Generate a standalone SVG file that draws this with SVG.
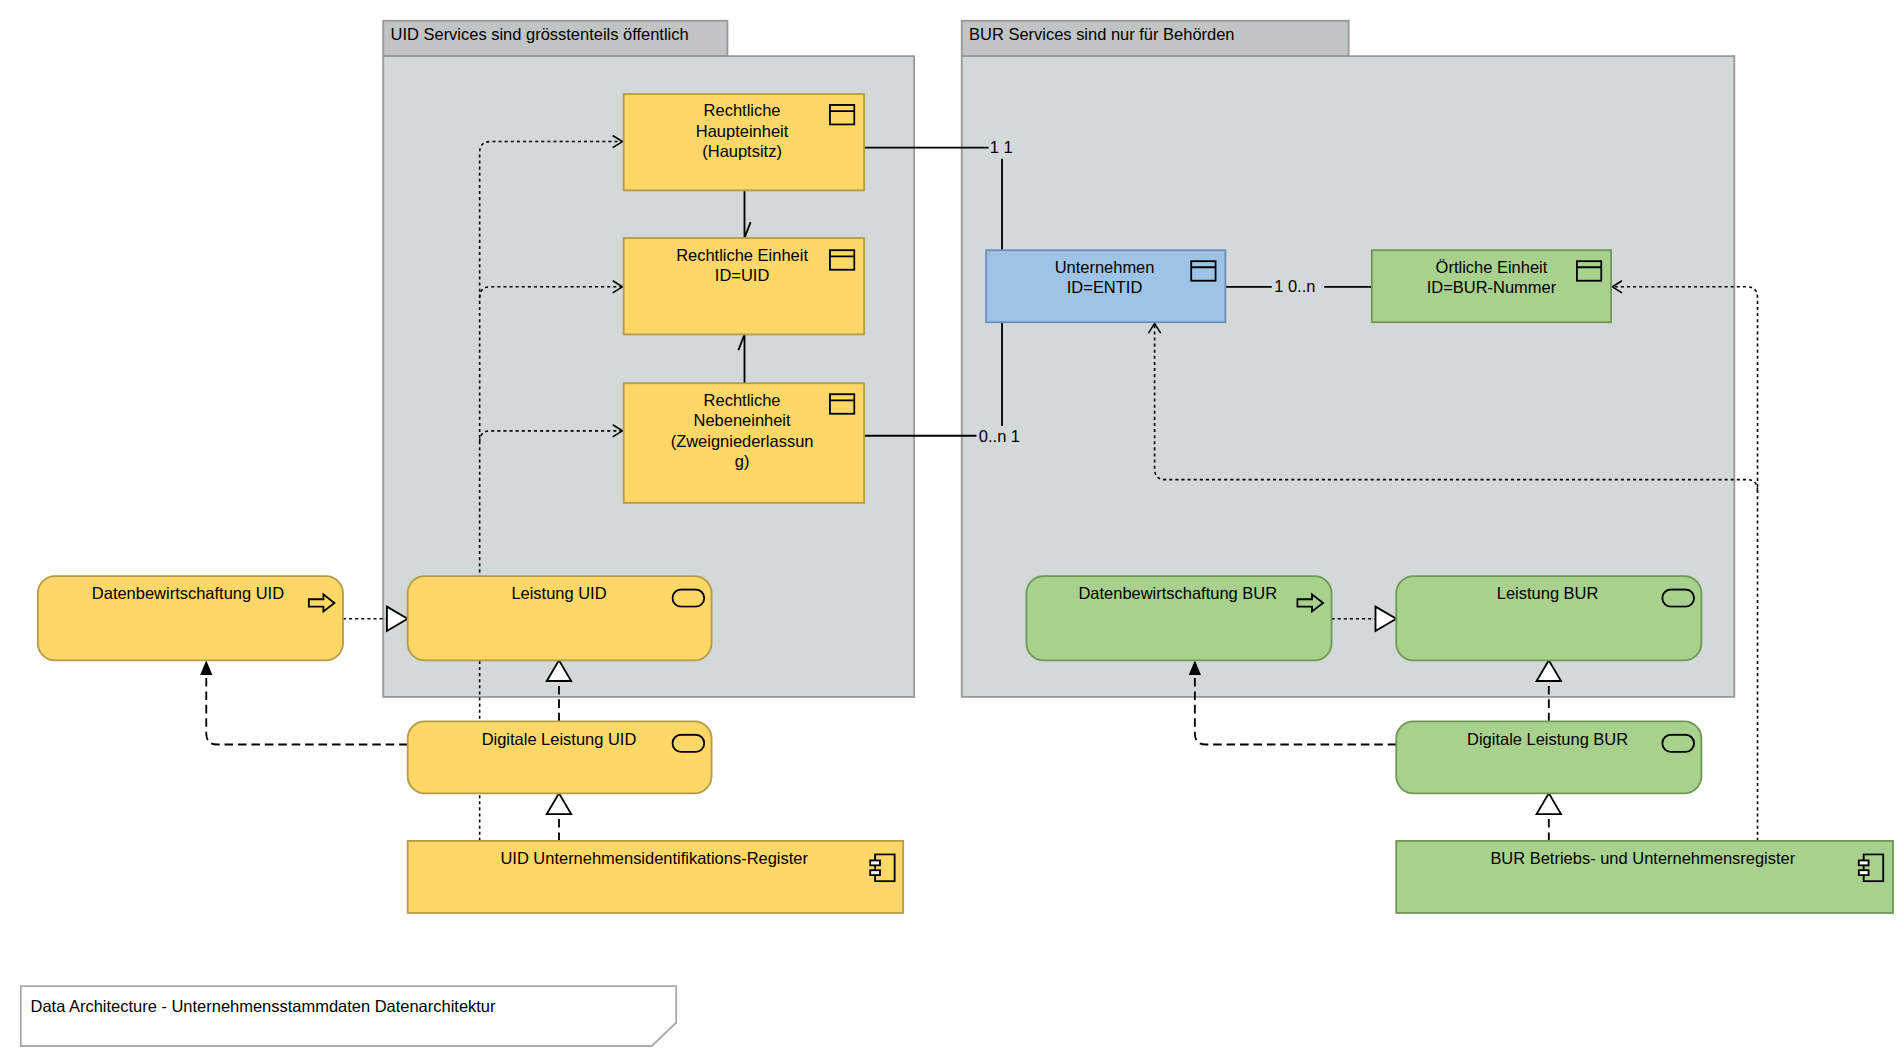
<svg xmlns="http://www.w3.org/2000/svg" width="1904" height="1062" viewBox="0 0 1904 1062">
<style>
text{font-family:"Liberation Sans",Arial,sans-serif;font-size:13.5px;fill:#000}
.c{text-anchor:middle}
.grpT{fill:#c0c4c4;stroke:#999;stroke-width:1.5}
.grp{fill:#d3d9d9;stroke:#999;stroke-width:1.5}
.y{fill:#fdd868;stroke:#b89c45;stroke-width:1.5}
.g{fill:#a9d18e;stroke:#6e9a55;stroke-width:1.5}
.b{fill:#9dc3e6;stroke:#6c8ebf;stroke-width:1.5}
.ic{fill:none;stroke:#000;stroke-width:1.5}
.ln{fill:none;stroke:#000;stroke-width:1.5}
.dot{fill:none;stroke:#000;stroke-width:1.3;stroke-dasharray:2.5 2.5}
.dash{fill:none;stroke:#000;stroke-width:1.5;stroke-dasharray:7 4}
.tri{fill:#fff;stroke:#000;stroke-width:1.5}
</style>
<defs>
<marker id="open" markerWidth="12" markerHeight="12" refX="10" refY="6" orient="auto" markerUnits="userSpaceOnUse"><path d="M2,1 L10,6 L2,11" fill="none" stroke="#000" stroke-width="1.3"/></marker>
<marker id="solid" markerWidth="12" markerHeight="14" refX="11" refY="6" orient="auto" markerUnits="userSpaceOnUse"><path d="M0,1 L12,6 L0,11 Z" fill="#000"/></marker>
<symbol id="cls" viewBox="0 0 22 18"><rect x="1" y="1" width="20" height="16" class="ic"/><line x1="1" y1="6" x2="21" y2="6" class="ic"/></symbol>
<symbol id="svc" viewBox="0 0 28 16"><rect x="1" y="1" width="26" height="14" rx="7" class="ic"/></symbol>
<symbol id="proc" viewBox="0 0 24 18"><path d="M1,6 H13 V2 L22,9 L13,16 V12 H1 Z" class="ic"/></symbol>
<symbol id="cmp" viewBox="0 0 24 24"><rect x="6" y="1" width="16" height="22" class="ic"/><rect x="2" y="6" width="8" height="4" fill="#fff" stroke="#000" stroke-width="1.5"/><rect x="2" y="14" width="8" height="4" fill="#fff" stroke="#000" stroke-width="1.5"/></symbol>
</defs>
<rect width="1904" height="1062" fill="#fff"/>
<g transform="scale(1.2205)">
<g id="grpUID">
<rect class="grpT" x="314" y="17" width="282" height="29"/>
<rect class="grp" x="314" y="46" width="435" height="525"/>
<text x="320" y="33">UID Services sind grösstenteils öffentlich</text>
</g>
<g id="grpBUR">
<rect class="grpT" x="788" y="17" width="317" height="29"/>
<rect class="grp" x="788" y="46" width="633" height="525"/>
<text x="794" y="33">BUR Services sind nur für Behörden</text>
</g>

<g id="connectors">
<path class="ln" d="M708,121 H810"/><text x="811" y="125">1 1</text><path class="ln" d="M821,130 V205"/>
<path class="ln" d="M708,357 H800"/><text x="802" y="362">0..n 1</text><path class="ln" d="M821,264 V349"/>
<path class="ln" d="M1004,235 H1042"/><text x="1044" y="239">1 0..n</text><path class="ln" d="M1085,235 H1124"/>
<path class="ln" d="M610,156 V195 M610,195 L615,182"/>
<path class="ln" d="M610,314 V274 M610,274 L605,287"/>
<path class="dot" d="M393,689 V125 Q393,116 402,116 H510" marker-end="url(#open)" marker-start="url(#open)"/>
<path class="dot" d="M393,244 Q393,235 402,235 H510" marker-end="url(#open)"/>
<path class="dot" d="M393,362 Q393,353 402,353 H510" marker-end="url(#open)"/>
<path class="dot" d="M1440,689 V244 Q1440,235 1431,235 H1321" marker-end="url(#open)" marker-start="url(#open)"/>
<path class="dot" d="M1440,402 Q1440,393 1431,393 H955 Q946,393 946,384 V265" marker-end="url(#open)"/>
<path class="dot" d="M281,507 H317"/><path class="tri" d="M317,497 L334,507 L317,517 Z"/>
<path class="dot" d="M1091,507 H1127"/><path class="tri" d="M1127,497 L1144,507 L1127,517 Z"/>
<path class="dash" d="M458,591 V558" stroke-dasharray="4 3"/><path class="tri" d="M448,558 L458,541 L468,558 Z"/>
<path class="dash" d="M458,689 V667" stroke-dasharray="4 3"/><path class="tri" d="M448,667 L458,650 L468,667 Z"/>
<path class="dash" d="M1269,591 V558" stroke-dasharray="4 3"/><path class="tri" d="M1259,558 L1269,541 L1279,558 Z"/>
<path class="dash" d="M1269,689 V667" stroke-dasharray="4 3"/><path class="tri" d="M1259,667 L1269,650 L1279,667 Z"/>
<path class="dash" d="M334,610 H178 Q169,610 169,601 V542" marker-end="url(#solid)"/>
<path class="dash" d="M1144,610 H988 Q979,610 979,601 V542" marker-end="url(#solid)"/>
</g>

<g id="rh"><rect class="y" x="511" y="77" width="197" height="79"/><use href="#cls" x="679" y="85" width="22" height="18"/>
<text class="c" x="608" y="95">Rechtliche</text><text class="c" x="608" y="112">Haupteinheit</text><text class="c" x="608" y="129">(Hauptsitz)</text></g>
<g id="re"><rect class="y" x="511" y="195" width="197" height="79"/><use href="#cls" x="679" y="204" width="22" height="18"/>
<text class="c" x="608" y="214">Rechtliche Einheit</text><text class="c" x="608" y="230">ID=UID</text></g>
<g id="rn"><rect class="y" x="511" y="314" width="197" height="98"/><use href="#cls" x="679" y="322" width="22" height="18"/>
<text class="c" x="608" y="333">Rechtliche</text><text class="c" x="608" y="349">Nebeneinheit</text><text class="c" x="608" y="366">(Zweigniederlassun</text><text class="c" x="608" y="383">g)</text></g>
<g id="unt"><rect class="b" x="808" y="205" width="196" height="59"/><use href="#cls" x="975" y="213" width="22" height="18"/>
<text class="c" x="905" y="224">Unternehmen</text><text class="c" x="905" y="240">ID=ENTID</text></g>
<g id="oe"><rect class="g" x="1124" y="205" width="196" height="59"/><use href="#cls" x="1291" y="213" width="22" height="18"/>
<text class="c" x="1222" y="224">Örtliche Einheit</text><text class="c" x="1222" y="240">ID=BUR-Nummer</text></g>

<g id="dbUID"><rect class="y" x="31" y="472" width="250" height="69" rx="14"/><use href="#proc" x="252" y="485" width="24" height="18"/><text class="c" x="154" y="491">Datenbewirtschaftung UID</text></g>
<g id="lUID"><rect class="y" x="334" y="472" width="249" height="69" rx="14"/><use href="#svc" x="550" y="482" width="28" height="16"/><text class="c" x="458" y="491">Leistung UID</text></g>
<g id="dlUID"><rect class="y" x="334" y="591" width="249" height="59" rx="14"/><use href="#svc" x="550" y="601" width="28" height="16"/><text class="c" x="458" y="610">Digitale Leistung UID</text></g>
<g id="regUID"><rect class="y" x="334" y="689" width="406" height="59"/><use href="#cmp" x="711" y="699" width="24" height="24"/><text class="c" x="536" y="708">UID Unternehmensidentifikations-Register</text></g>

<g id="dbBUR"><rect class="g" x="841" y="472" width="250" height="69" rx="14"/><use href="#proc" x="1062" y="485" width="24" height="18"/><text class="c" x="965" y="491">Datenbewirtschaftung BUR</text></g>
<g id="lBUR"><rect class="g" x="1144" y="472" width="250" height="69" rx="14"/><use href="#svc" x="1361" y="482" width="28" height="16"/><text class="c" x="1268" y="491">Leistung BUR</text></g>
<g id="dlBUR"><rect class="g" x="1144" y="591" width="250" height="59" rx="14"/><use href="#svc" x="1361" y="601" width="28" height="16"/><text class="c" x="1268" y="610">Digitale Leistung BUR</text></g>
<g id="regBUR"><rect class="g" x="1144" y="689" width="407" height="59"/><use href="#cmp" x="1521" y="699" width="24" height="24"/><text class="c" x="1346" y="708">BUR Betriebs- und Unternehmensregister</text></g>

<g id="note"><path d="M17,808 H554 V838 L534,857 H17 Z" fill="#fff" stroke="#aaa" stroke-width="1.5"/><text x="25" y="829">Data Architecture - Unternehmensstammdaten Datenarchitektur</text></g>
</g>
</svg>
